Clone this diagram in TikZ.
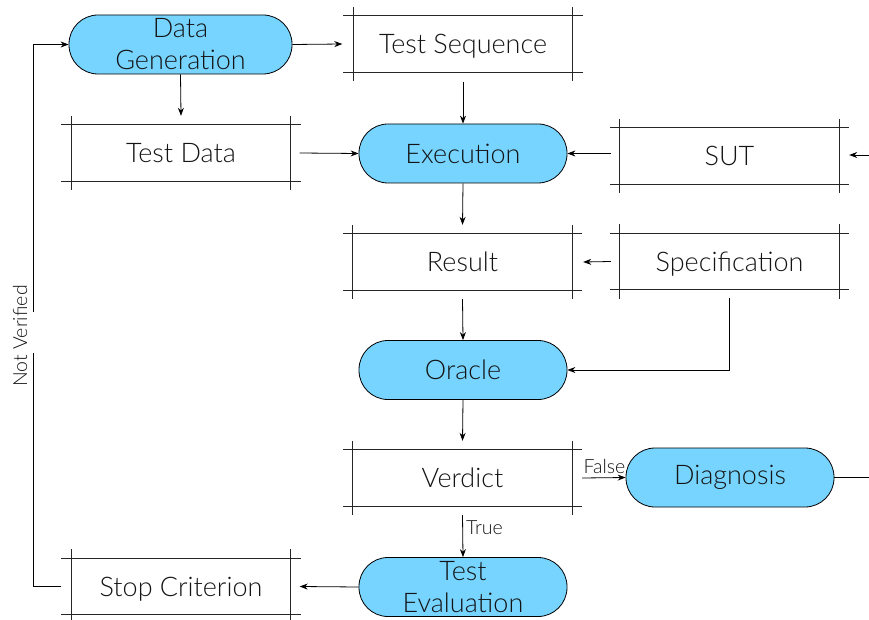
\documentclass[tikz,border=0pt]{standalone}
\usepackage{fontspec}
\setmainfont{Lato Light}
\usetikzlibrary{arrows.meta}
\definecolor{pillblue}{RGB}{118,212,255}
\definecolor{ink}{RGB}{20,20,20}
\tikzset{
  pill/.style={draw=black, line width=0.8pt, fill=pillblue, rounded corners=29pt,
    minimum width=208pt, minimum height=59pt, inner sep=0pt, align=center,
    font=\fontsize{27}{32}\selectfont, text=ink},
  dnode/.style={minimum width=219pt, minimum height=56pt, inner sep=0pt,
    text depth=0pt, font=\fontsize{27}{29}\selectfont, text=ink},
  boxline/.style={draw=black!85, line width=0.8pt},
  conn/.style={draw=black, line width=0.8pt},
  arr/.style={conn, -{Stealth[length=8pt,width=6pt]}},
  small/.style={font=\fontsize{19.5}{21}\selectfont, text=ink, inner sep=1pt}
}
\newcommand{\dbox}[4]{%
  \node[dnode] (#1) at (#2,#3) {#4};
  \draw[boxline] ([xshift=-10pt]#1.north west) -- ([xshift=10pt]#1.north east);
  \draw[boxline] ([xshift=-10pt]#1.south west) -- ([xshift=10pt]#1.south east);
  \draw[boxline] ([yshift=9pt]#1.north west) -- ([yshift=-9pt]#1.south west);
  \draw[boxline] ([yshift=9pt]#1.north east) -- ([yshift=-9pt]#1.south east);
}
\begin{document}
\begin{tikzpicture}[x=1pt,y=-1pt]
\useasboundingbox (0,0) rectangle (869,620);
% pills
\node[pill, minimum width=223pt] (dg) at (180.5,44.5) {Data\\Generation};
\node[pill] (ex) at (463,153.5) {Execution};
\node[pill] (or) at (463,370) {Oracle};
\node[pill] (dia) at (730,477.5) {Diagnosis};
\node[pill] (te) at (463,587) {Test\\Evaluation};
% data boxes
\dbox{ts}{463}{44}{Test Sequence}
\dbox{td}{181}{153}{Test Data}
\dbox{sut}{729.5}{156}{SUT}
\dbox{spec}{729.5}{261.5}{Specification}
\dbox{res}{462.5}{262}{Result}
\dbox{ver}{462.5}{478}{Verdict}
\dbox{sc}{181}{586.5}{Stop Criterion}
% free ends
\coordinate (inR) at (869,155);
\coordinate (outR) at (869,477.5);
\coordinate (c1) at (33,586.5);
\coordinate (g1) at (33,353);
\coordinate (g2) at (33,312);
\coordinate (c2) at (33,44.5);
% connectors
\draw[arr] (dg.east) -- ([xshift=-11pt]ts.west);
\draw[arr] (dg.south) -- ([yshift=9pt]td.north);
\draw[arr] ([yshift=-10pt]ts.south) -- (ex.north);
\draw[arr] ([xshift=9pt]td.east) -- (ex.west);
\draw[arr] ([xshift=-9pt]sut.west |- ex.east) -- (ex.east);
\draw[arr] (inR) -- ([xshift=10pt]sut.east |- inR);
\draw[arr] (ex.south) -- ([yshift=9pt]res.north);
\draw[arr] ([xshift=-9pt]spec.west) -- ([xshift=11pt]res.east);
\draw[arr] ([yshift=-9pt]res.south) -- (or.north);
\draw[arr] ([yshift=-8pt]spec.south) |- (or.east);
\draw[arr] (or.south) -- ([yshift=9pt]ver.north);
\draw[arr] ([xshift=10pt]ver.east) -- node[small, pos=0, anchor=south west, yshift=3pt] {False} (dia.west);
\draw[conn] (dia.east) -- (outR);
\draw[arr] ([yshift=-9pt]ver.south) -- node[small, pos=0.3, anchor=west, xshift=2pt] {True} (te.north);
\draw[arr] (te.west) -- ([xshift=9pt]sc.east);
\draw[conn] ([xshift=-10pt]sc.west) -- (c1) -- (g1);
\draw[arr] (g2) -- (c2) -- (dg.west);
\node[small, rotate=90] (nv) at (20,336) {Not Verified};
\end{tikzpicture}
\end{document}
